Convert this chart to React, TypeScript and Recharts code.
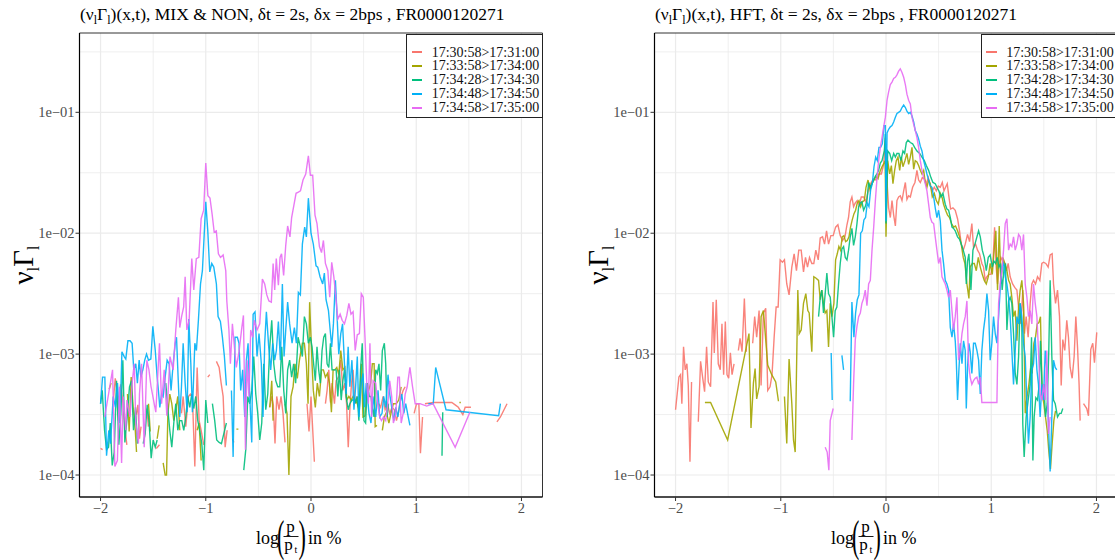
import React from "react";
import { LineChart, Line, XAxis, YAxis, CartesianGrid, ReferenceArea } from "recharts";

type Pt = [number, number] | null; // [log return %, log10 density], null = gap

const SERIES_NAMES = [
  "17:30:58>17:31:00",
  "17:33:58>17:34:00",
  "17:34:28>17:34:30",
  "17:34:48>17:34:50",
  "17:34:58>17:35:00",
];
const SERIES_COLORS = ["#F8766D", "#A3A500", "#00BF7D", "#00B0F6", "#E76BF3"];

const xTicks = [-2, -1, 0, 1, 2];
const xTickLabels = ["\u22122", "\u22121", "0", "1", "2"];
const xMinor = [-1.5, -0.5, 0.5, 1.5];
const yTicks = [1e-4, 1e-3, 1e-2, 1e-1];
const yTickLabels = ["1e\u221204", "1e\u221203", "1e\u221202", "1e\u221201"];
const yMinor = [3.162e-4, 3.162e-3, 3.162e-2, 3.162e-1];
const xDomain = [-2.2, 2.2];
const yDomain = [6.58e-5, 0.453];

// ---- MIX & NON panel ----
const mixRed: Pt[] = [
  [-2.0,-3.78],[-1.98,-3.79],null,
  [-1.88,-3.40],[-1.86,-3.20],[-1.845,-3.29],[-1.83,-3.55],[-1.81,-3.25],[-1.79,-3.38],[-1.77,-3.60],[-1.75,-3.75],null,
  [-1.66,-3.50],[-1.645,-3.42],[-1.63,-3.70],[-1.615,-3.60],null,
  [-1.56,-3.45],[-1.545,-3.60],null,
  [-1.47,-3.78],[-1.44,-3.75],null,
  [-1.231,-3.49],[-1.215,-3.35],[-1.19,-3.60],[-1.165,-3.35],[-1.146,-3.33],[-1.127,-3.35],[-1.104,-3.93],[-1.082,-3.11],[-1.063,-3.55],[-1.044,-3.63],[-1.019,-3.75],null,
  [-0.981,-3.19],[-0.962,-3.17],null,
  [-0.899,-3.06],[-0.873,-3.11],[-0.854,-3.24],[-0.835,-3.35],[-0.816,-3.77],[-0.797,-3.63],null,
  [-0.745,-3.70],[-0.734,-3.73],null,
  [-0.392,-3.44],[-0.373,-3.35],[-0.358,-3.42],[-0.342,-3.74],[-0.326,-3.35],[-0.304,-3.46],[-0.285,-3.35],[-0.266,-3.49],[-0.247,-3.73],null,
  [-0.038,-3.41],[-0.019,-3.64],[0.0,-3.35],[0.032,-3.89],null,
  [0.137,-3.41],[0.153,-3.30],[0.169,-3.13],[0.185,-3.40],[0.2,-3.24],[0.223,-3.41],[0.239,-3.22],[0.261,-3.19],[0.283,-3.05],[0.303,-3.30],[0.322,-3.24],[0.338,-3.41],[0.354,-3.77],[0.369,-3.46],[0.385,-3.24],[0.4,-3.13],[0.417,-3.41],[0.436,-3.35],[0.455,-3.46],null,
  [0.643,-3.41],[0.662,-3.44],[0.685,-3.35],[0.704,-3.46],[0.726,-3.41],[0.748,-3.49],[0.77,-3.44],[0.793,-3.46],[0.812,-3.55],[0.83,-3.49],[0.857,-3.35],[0.876,-3.30],[0.895,-3.27],null,
  [0.98,-3.49],[1.003,-3.41],[1.025,-3.41],[1.04,-3.82],[1.06,-3.52],null,
  [1.083,-3.41],[1.162,-3.40],[1.29,-3.40],[1.338,-3.40],[1.37,-3.42],[1.4,-3.44],[1.443,-3.50],[1.465,-3.44],[1.52,-3.44],null,
  [1.767,-3.56],[1.8,-3.52],[1.863,-3.41],
];

const mixOlive: Pt[] = [
  [-1.918,-3.29],[-1.9,-3.24],null,
  [-1.744,-3.33],[-1.728,-3.64],[-1.709,-3.19],[-1.69,-3.44],[-1.67,-3.63],[-1.658,-3.81],null,
  [-1.544,-3.41],[-1.528,-3.64],null,
  [-1.462,-3.70],[-1.443,-3.59],null,
  [-1.405,-3.90],[-1.386,-4.0],[-1.373,-4.0],[-1.36,-3.49],[-1.342,-3.33],[-1.323,-3.41],[-1.304,-3.55],[-1.285,-3.46],[-1.266,-3.35],[-1.247,-3.63],null,
  [-1.082,-3.63],[-1.063,-3.57],[-1.044,-3.88],null,
  [-0.709,-3.62],[-0.69,-3.62],null,
  [-0.392,-3.44],[-0.373,-3.22],[-0.36,-3.55],null,
  [-0.247,-3.41],[-0.228,-3.49],[-0.21,-4.0],[-0.19,-3.35],[-0.17,-3.27],[-0.152,-3.08],[-0.13,-3.20],[-0.11,-3.05],[-0.082,-2.91],[-0.063,-2.91],[-0.044,-3.08],[-0.028,-3.41],[-0.013,-2.57],[0.01,-3.08],[0.022,-3.30],[0.041,-3.44],[0.06,-3.24],[0.08,-3.35],[0.1,-3.13],[0.118,-3.13],[0.137,-3.19],[0.156,-3.16],[0.175,-3.24],[0.194,-3.48],[0.21,-3.13],[0.226,-3.13],[0.245,-3.11],[0.264,-3.17],[0.283,-2.97],[0.303,-3.13],[0.322,-3.11],[0.34,-3.38],[0.36,-3.35],[0.382,-3.38],[0.4,-3.35],[0.42,-3.38],[0.44,-3.41],[0.459,-3.46],[0.478,-3.08],[0.494,-3.52],[0.513,-3.51],[0.53,-3.30],[0.548,-3.30],[0.567,-3.24],[0.583,-3.08],[0.6,-3.08],[0.61,-3.60],[0.627,-3.59],null,
  [0.678,-3.63],[0.697,-3.52],[0.717,-3.48],[0.74,-3.57],[0.76,-3.49],[0.783,-3.41],[0.81,-3.41],[0.834,-3.38],[0.857,-3.27],null,
  [1.41,-3.40],[1.424,-3.40],
];

const mixGreen: Pt[] = [
  [-2.0,-3.41],[-1.984,-3.30],[-1.962,-3.63],[-1.943,-3.79],[-1.924,-3.77],[-1.908,-3.57],[-1.889,-3.92],[-1.87,-3.81],[-1.848,-3.22],[-1.826,-3.75],[-1.807,-3.49],[-1.788,-3.05],[-1.769,-3.73],[-1.747,-3.52],[-1.725,-3.27],[-1.706,-3.22],[-1.687,-3.63],[-1.668,-3.44],[-1.649,-3.74],null,
  [-1.595,-3.74],[-1.576,-3.66],[-1.557,-3.42],[-1.538,-3.57],[-1.519,-3.86],[-1.5,-3.71],[-1.48,-3.77],[-1.462,-3.71],null,
  [-1.38,-3.24],[-1.36,-3.46],[-1.342,-3.63],[-1.323,-3.77],[-1.304,-3.57],[-1.285,-3.41],[-1.266,-3.63],[-1.247,-3.55],[-1.228,-3.55],[-1.209,-3.63],[-1.19,-3.52],[-1.171,-3.35],[-1.152,-3.44],[-1.133,-3.33],[-1.114,-3.45],[-1.095,-3.35],[-1.076,-3.55],[-1.057,-3.63],[-1.038,-3.74],[-1.019,-3.96],[-1.0,-3.38],[-0.981,-3.57],null,
  [-0.937,-3.41],[-0.915,-3.55],[-0.896,-3.71],[-0.873,-3.73],[-0.851,-3.74],[-0.829,-3.66],[-0.804,-3.57],null,
  [-0.639,-3.96],[-0.62,-3.79],[-0.601,-3.35],[-0.582,-3.41],[-0.563,-3.30],[-0.544,-3.02],[-0.525,-3.33],[-0.506,-3.49],[-0.487,-3.71],[-0.468,-3.57],[-0.449,-3.08],[-0.43,-3.46],[-0.411,-3.33],[-0.392,-2.94],[-0.373,-2.72],[-0.354,-3.08],[-0.335,-3.22],[-0.316,-3.27],[-0.297,-3.27],[-0.278,-2.94],[-0.259,-3.30],[-0.24,-3.49],[-0.222,-3.13],[-0.203,-3.05],[-0.184,-3.19],[-0.165,-3.08],[-0.146,-3.24],[-0.123,-2.86],[-0.101,-2.94],[-0.082,-3.02],[-0.063,-2.69],[-0.044,-2.75],[-0.025,-2.91],[-0.006,-2.86],[0.01,-2.94],[0.025,-3.08],[0.041,-3.22],[0.057,-2.94],[0.073,-3.13],[0.089,-3.24],[0.105,-2.97],[0.121,-2.86],[0.137,-2.83],[0.153,-3.08],[0.169,-3.11],[0.185,-2.91],[0.2,-3.13],[0.22,-3.13],[0.239,-3.13],[0.255,-3.35],[0.27,-3.13],[0.287,-3.38],[0.303,-3.22],[0.318,-3.13],[0.334,-3.35],[0.354,-3.46],[0.369,-3.41],[0.389,-3.38],[0.408,-3.38],[0.424,-3.40],[0.44,-3.35],[0.455,-3.55],[0.471,-3.13],[0.487,-2.91],[0.503,-3.55],[0.519,-3.57],[0.535,-3.24],[0.554,-3.35],[0.57,-3.35],[0.586,-3.46],[0.599,-3.52],[0.615,-3.13],[0.63,-3.16],[0.646,-3.08],[0.662,-3.30],[0.678,-2.97],[0.697,-2.91],[0.71,-3.08],[0.723,-3.52],[0.736,-3.41],null,
  [1.245,-3.84],[1.252,-3.48],
];

const mixBlue: Pt[] = [
  [-2.0,-3.41],[-1.981,-3.19],[-1.959,-3.19],[-1.943,-3.84],[-1.921,-3.63],[-1.905,-3.74],[-1.88,-3.35],[-1.858,-3.44],[-1.839,-3.24],[-1.816,-3.57],[-1.797,-2.98],[-1.775,-3.02],[-1.76,-3.04],[-1.74,-2.89],[-1.72,-2.89],[-1.7,-2.91],[-1.684,-3.13],[-1.665,-3.08],[-1.65,-3.24],[-1.633,-3.05],[-1.617,-3.19],[-1.598,-3.13],[-1.58,-3.05],[-1.563,-3.0],[-1.544,-3.05],[-1.522,-3.04],[-1.503,-2.77],[-1.48,-2.97],[-1.462,-3.19],[-1.45,-3.30],[-1.437,-3.44],[-1.42,-3.33],[-1.405,-3.35],[-1.386,-3.19],[-1.367,-3.05],[-1.348,-3.08],[-1.33,-3.30],[-1.31,-3.08],[-1.29,-2.91],[-1.278,-2.86],[-1.263,-3.19],[-1.247,-3.52],[-1.231,-3.27],[-1.215,-2.91],[-1.196,-3.24],[-1.177,-3.48],[-1.161,-2.71],[-1.142,-3.08],[-1.127,-3.48],[-1.104,-2.91],[-1.089,-2.97],[-1.07,-2.72],[-1.05,-2.42],[-1.032,-2.31],[-1.016,-2.03],[-1.0,-1.74],[-0.981,-1.98],[-0.962,-2.32],[-0.943,-2.25],[-0.924,-2.28],[-0.899,-2.42],[-0.883,-2.69],[-0.861,-2.73],[-0.842,-2.86],[-0.823,-3.02],[-0.804,-3.26],null,
  [-0.756,-3.30],[-0.74,-3.85],[-0.722,-2.86],[-0.7,-2.86],[-0.684,-2.91],[-0.668,-3.30],[-0.649,-3.13],[-0.63,-3.52],[-0.614,-3.05],[-0.598,-2.91],[-0.582,-3.35],[-0.563,-3.73],[-0.55,-2.67],[-0.532,-2.65],[-0.513,-3.02],[-0.494,-2.83],[-0.472,-3.08],[-0.456,-3.52],[-0.44,-2.91],[-0.424,-2.65],[-0.402,-2.94],[-0.383,-3.13],[-0.364,-2.91],[-0.345,-3.05],[-0.329,-2.97],[-0.31,-2.73],[-0.291,-3.05],[-0.272,-2.42],[-0.256,-3.02],[-0.24,-2.80],[-0.222,-2.57],[-0.203,-2.75],[-0.18,-2.91],[-0.158,-2.78],[-0.139,-2.91],[-0.12,-2.49],[-0.101,-2.51],[-0.082,-2.09],[-0.06,-1.95],[-0.044,-2.03],[-0.025,-1.71],[0.0,-2.0],[0.022,-2.09],[0.048,-2.27],[0.064,-2.28],[0.086,-2.36],[0.111,-2.42],[0.127,-2.33],[0.143,-2.55],[0.166,-2.64],[0.18,-2.78],[0.197,-2.94],[0.213,-2.75],[0.232,-2.39],[0.248,-2.69],[0.264,-3.0],[0.283,-2.83],[0.3,-2.75],[0.318,-3.08],[0.334,-3.33],[0.353,-2.94],[0.369,-3.27],[0.389,-3.05],[0.408,-3.46],[0.424,-3.27],[0.44,-3.02],[0.455,-3.52],[0.478,-3.24],[0.494,-3.16],[0.51,-3.44],[0.525,-3.24],[0.551,-3.49],[0.57,-3.57],[0.589,-3.35],[0.615,-3.52],[0.637,-3.30],[0.653,-3.52],[0.675,-3.49],[0.691,-3.35],[0.71,-3.44],[0.732,-3.17],[0.748,-3.33],[0.767,-3.44],[0.787,-3.55],[0.806,-3.44],[0.825,-3.52],[0.844,-3.41],[0.863,-3.33],[0.882,-3.49],[0.9,-3.41],[0.924,-3.52],[0.94,-3.59],null,
  [1.115,-3.41],[1.162,-3.41],[1.185,-3.11],[1.283,-3.46],[1.783,-3.51],[1.8,-3.41],
];

const mixMagenta: Pt[] = [
  [-1.96,-3.52],[-1.886,-3.13],[-1.864,-3.93],[-1.84,-3.88],[-1.82,-3.27],[-1.8,-3.90],[-1.785,-3.35],[-1.76,-3.63],[-1.75,-3.38],[-1.72,-3.52],[-1.7,-3.24],[-1.68,-3.08],[-1.665,-3.57],[-1.64,-3.74],[-1.63,-3.33],[-1.61,-3.08],[-1.585,-3.77],[-1.56,-3.05],[-1.54,-3.13],[-1.52,-3.27],[-1.49,-3.41],[-1.475,-3.48],[-1.44,-2.91],[-1.42,-3.41],[-1.395,-3.13],[-1.37,-3.51],[-1.34,-3.02],[-1.31,-3.13],[-1.285,-2.80],[-1.26,-2.53],[-1.247,-2.78],[-1.23,-2.69],[-1.21,-2.61],[-1.196,-2.36],[-1.18,-2.80],[-1.158,-2.72],[-1.133,-2.21],[-1.114,-2.47],[-1.09,-2.21],[-1.066,-2.20],[-1.044,-1.88],[-1.02,-1.81],[-1.0,-1.42],[-0.98,-1.69],[-0.96,-1.71],[-0.94,-1.84],[-0.92,-1.99],[-0.9,-1.98],[-0.88,-2.17],[-0.86,-2.20],[-0.835,-2.18],[-0.81,-2.31],[-0.8,-2.56],[-0.78,-2.80],[-0.766,-3.08],[-0.747,-2.75],[-0.728,-2.94],[-0.71,-3.11],[-0.684,-2.98],[-0.66,-2.80],[-0.642,-2.68],[-0.623,-3.79],[-0.608,-3.05],[-0.59,-3.35],[-0.573,-2.80],[-0.554,-2.86],[-0.538,-2.72],[-0.513,-2.80],[-0.487,-2.75],[-0.462,-2.38],[-0.44,-2.42],[-0.42,-2.51],[-0.4,-2.56],[-0.377,-2.57],[-0.36,-2.25],[-0.345,-2.47],[-0.33,-2.21],[-0.31,-2.43],[-0.294,-2.20],[-0.28,-2.17],[-0.26,-2.35],[-0.24,-2.10],[-0.222,-1.94],[-0.2,-2.03],[-0.184,-1.87],[-0.165,-1.78],[-0.142,-1.67],[-0.12,-1.66],[-0.1,-1.65],[-0.076,-1.56],[-0.05,-1.51],[-0.025,-1.36],[-0.006,-1.52],[0.016,-1.52],[0.038,-1.85],[0.057,-1.92],[0.08,-2.11],[0.1,-2.16],[0.118,-2.06],[0.137,-2.25],[0.16,-2.31],[0.178,-2.53],[0.197,-2.24],[0.217,-2.36],[0.236,-2.53],[0.255,-2.71],[0.277,-2.67],[0.296,-2.72],[0.318,-2.75],[0.34,-2.68],[0.36,-2.58],[0.38,-2.67],[0.4,-2.65],[0.42,-2.97],[0.44,-2.84],[0.46,-2.83],[0.478,-2.50],[0.497,-2.53],[0.513,-2.86],[0.53,-3.24],[0.545,-3.41],[0.56,-2.91],[0.576,-3.52],[0.59,-3.22],[0.615,-3.24],[0.634,-3.41],[0.653,-3.52],[0.67,-3.55],[0.69,-3.52],[0.71,-3.55],[0.73,-3.41],[0.748,-3.22],[0.767,-3.35],[0.783,-3.57],[0.806,-3.49],[0.825,-3.19],[0.84,-3.19],[0.857,-3.57],[0.876,-3.49],[0.895,-3.33],[0.914,-3.27],[0.94,-3.11],[0.965,-3.27],[0.99,-3.41],[1.035,-3.41],[1.1,-3.43],[1.16,-3.41],[1.37,-3.77],[1.51,-3.48],
];

// ---- HFT panel ----
const hftRed: Pt[] = [
  [-2.0,-3.46],[-1.981,-3.30],[-1.968,-3.19],[-1.952,-3.17],[-1.94,-3.41],[-1.924,-2.94],[-1.908,-3.13],[-1.892,-3.08],[-1.879,-3.26],[-1.863,-3.89],[-1.848,-3.23],null,
  [-1.784,-3.56],[-1.762,-3.06],[-1.743,-3.19],[-1.724,-3.31],[-1.705,-2.94],[-1.689,-3.23],[-1.667,-3.27],[-1.644,-2.57],[-1.632,-2.99],[-1.613,-2.55],[-1.594,-3.08],[-1.575,-3.13],[-1.559,-2.75],[-1.543,-3.17],[-1.527,-2.73],[-1.511,-3.17],[-1.495,-3.20],[-1.479,-2.99],[-1.463,-3.17],[-1.444,-3.08],null,
  [-1.403,-2.97],[-1.387,-2.87],[-1.368,-2.98],[-1.346,-2.54],[-1.327,-2.98],null,
  [-1.267,-2.91],[-1.248,-2.69],[-1.229,-2.86],[-1.206,-2.64],[-1.187,-3.26],[-1.165,-2.66],[-1.143,-2.62],[-1.124,-3.30],[-1.102,-3.27],[-1.083,-3.17],[-1.063,-2.86],[-1.044,-2.61],[-1.025,-2.61],[-1.006,-2.22],[-0.984,-2.24],[-0.965,-2.22],[-0.943,-2.42],[-0.921,-2.51],[-0.895,-2.28],[-0.873,-2.17],[-0.851,-2.31],[-0.829,-2.14],[-0.806,-2.14],[-0.784,-2.32],[-0.765,-2.20],[-0.746,-2.28],[-0.727,-2.20],[-0.705,-2.25],[-0.686,-2.25],[-0.667,-2.14],[-0.644,-2.22],[-0.625,-2.04],[-0.603,-2.03],[-0.584,-2.09],[-0.565,-1.98],[-0.546,-2.09],[-0.524,-2.02],[-0.502,-2.02],[-0.479,-1.95],[-0.457,-1.93],[-0.435,-2.02],[-0.413,-2.06],[-0.39,-2.03],[-0.371,-1.93],[-0.356,-1.87],[-0.34,-1.74],[-0.324,-1.70],[-0.308,-1.78],[-0.292,-1.75],[-0.273,-1.73],[-0.254,-1.77],[-0.235,-1.70],[-0.213,-1.70],[-0.19,-1.74],[-0.165,-1.63],[-0.14,-1.58],[-0.117,-1.55],[-0.095,-1.56],[-0.07,-1.51],[-0.044,-1.51],[-0.022,-1.43],[-0.006,-1.21],[0.01,-1.58],[0.025,-1.79],[0.041,-1.87],[0.057,-1.73],[0.073,-1.85],[0.089,-1.94],[0.104,-1.73],[0.12,-1.70],[0.136,-1.69],[0.152,-1.73],[0.168,-1.65],[0.184,-1.58],[0.199,-1.72],[0.215,-1.69],[0.231,-1.70],[0.253,-1.62],[0.275,-1.58],[0.294,-1.48],[0.31,-1.56],[0.326,-1.58],[0.345,-1.54],[0.364,-1.55],[0.383,-1.59],[0.402,-1.54],[0.421,-1.61],[0.44,-1.65],[0.459,-1.62],[0.478,-1.65],[0.497,-1.61],[0.516,-1.62],[0.535,-1.58],[0.551,-1.65],[0.566,-1.62],[0.582,-1.59],[0.598,-1.70],[0.614,-1.80],[0.636,-1.79],[0.658,-1.81],[0.68,-1.88],[0.699,-1.98],[0.715,-2.09],[0.734,-2.14],[0.753,-2.09],[0.775,-2.01],[0.794,-2.07],[0.816,-1.92],[0.832,-2.12],[0.851,-2.09],[0.87,-2.14],[0.889,-2.17],[0.911,-2.25],[0.927,-2.28],[0.943,-2.39],[0.959,-2.36],[0.978,-2.34],[0.997,-2.34],[1.016,-2.25],[1.032,-1.95],[1.047,-2.28],[1.06,-2.42],[1.076,-2.25],[1.092,-2.20],[1.108,-2.23],[1.127,-2.25],[1.146,-2.31],[1.161,-2.25],[1.18,-2.36],[1.203,-2.42],[1.225,-2.45],[1.244,-2.47],[1.263,-2.64],[1.282,-2.75],[1.3,-2.47],[1.316,-2.83],[1.332,-2.69],[1.351,-2.86],[1.37,-2.58],[1.386,-2.42],[1.402,-2.39],[1.421,-2.42],[1.44,-2.36],[1.462,-2.39],[1.481,-2.25],[1.497,-2.24],[1.519,-2.25],[1.541,-2.28],[1.56,-2.18],[1.579,-2.17],[1.592,-2.42],[1.611,-2.58],[1.63,-2.47],[1.649,-2.69],[1.665,-3.26],[1.68,-2.88],[1.699,-2.97],[1.718,-2.72],[1.734,-2.86],[1.75,-3.11],[1.769,-3.20],[1.788,-3.02],[1.804,-2.69],[1.82,-2.94],[1.835,-3.25],[1.845,-3.55],null,
  [1.877,-3.41],[1.908,-3.45],[1.924,-3.51],[1.946,-2.96],[1.965,-2.91],[1.981,-3.07],[2.003,-2.82],
];

const hftOlive: Pt[] = [
  [-1.721,-3.40],[-1.667,-3.40],[-1.505,-3.71],[-1.302,-2.83],[-1.283,-3.61],[-1.26,-3.24],[-1.244,-3.12],[-1.229,-3.37],[-1.206,-3.27],[-1.187,-2.69],[-1.165,-2.64],[-1.124,-3.09],[-1.086,-3.17],[-1.048,-3.23],[-1.022,-3.39],null,
  [-0.965,-3.35],[-0.943,-3.74],[-0.921,-3.04],[-0.895,-3.41],[-0.879,-3.71],[-0.863,-3.81],[-0.838,-2.47],[-0.825,-2.83],[-0.806,-2.80],[-0.784,-2.58],[-0.762,-2.50],[-0.743,-2.64],[-0.73,-2.66],[-0.705,-2.98],[-0.686,-2.36],[-0.667,-2.37],[-0.641,-2.39],[-0.625,-2.55],[-0.61,-2.47],[-0.594,-2.58],[-0.578,-2.66],[-0.562,-2.64],[-0.546,-2.94],[-0.53,-2.58],[-0.514,-2.69],[-0.495,-2.58],[-0.479,-2.22],[-0.463,-2.17],[-0.448,-2.11],[-0.432,-2.14],[-0.416,-2.03],[-0.4,-2.02],[-0.384,-2.07],[-0.368,-2.06],[-0.352,-2.03],[-0.337,-1.95],[-0.321,-1.89],[-0.305,-1.84],[-0.289,-1.81],[-0.273,-1.75],[-0.257,-1.73],[-0.241,-1.78],[-0.225,-1.74],[-0.206,-1.73],[-0.19,-1.62],[-0.171,-1.56],[-0.152,-1.64],[-0.133,-1.59],[-0.114,-1.56],[-0.095,-1.53],[-0.076,-1.55],[-0.057,-1.49],[-0.038,-1.45],[-0.019,-1.42],[-0.008,-1.40],[0.0,-2.03],[0.016,-1.40],[0.035,-1.51],[0.051,-1.44],[0.066,-1.59],[0.082,-1.48],[0.098,-1.40],[0.114,-1.37],[0.13,-1.48],[0.146,-1.37],[0.161,-1.45],[0.18,-1.40],[0.199,-1.34],[0.215,-1.43],[0.231,-1.37],[0.247,-1.29],[0.263,-1.47],[0.278,-1.40],[0.294,-1.41],[0.31,-1.44],[0.326,-1.48],[0.342,-1.51],[0.358,-1.48],[0.373,-1.58],[0.389,-1.62],[0.405,-1.56],[0.421,-1.59],[0.44,-1.70],[0.459,-1.67],[0.478,-1.73],[0.497,-1.76],[0.516,-1.67],[0.532,-1.70],[0.547,-1.76],[0.566,-1.81],[0.585,-1.85],[0.604,-1.87],[0.623,-1.92],[0.642,-1.95],[0.661,-1.94],[0.68,-1.98],[0.699,-2.03],[0.715,-2.09],[0.734,-2.20],[0.75,-2.25],[0.769,-2.42],[0.788,-2.54],[0.8,-2.28],[0.82,-2.25],[0.839,-2.25],[0.858,-2.31],[0.877,-2.20],[0.896,-2.28],[0.915,-2.34],[0.934,-2.39],[0.953,-2.42],[0.972,-2.36],[0.99,-2.25],[1.01,-2.34],[1.028,-2.14],[1.044,-1.98],[1.06,-2.47],[1.076,-1.94],[1.092,-2.42],[1.11,-2.20],[1.13,-2.25],[1.149,-2.31],[1.165,-2.39],[1.18,-2.42],[1.196,-2.53],[1.212,-2.69],[1.228,-2.64],[1.244,-2.89],[1.26,-2.61],[1.275,-2.47],[1.291,-2.39],[1.307,-2.58],[1.323,-3.49],[1.339,-3.36],[1.358,-3.25],[1.373,-3.13],[1.389,-3.16],[1.405,-2.91],[1.421,-2.86],[1.437,-2.75],[1.453,-2.74],[1.468,-2.69],[1.484,-3.33],[1.5,-3.41],[1.516,-3.52],[1.532,-3.63],[1.547,-3.80],[1.563,-3.95],[1.579,-3.74],[1.595,-3.55],[1.611,-3.47],
];

const hftGreen: Pt[] = [
  [-0.641,-2.69],[-0.625,-2.53],[-0.61,-2.47],[-0.594,-2.66],[-0.578,-2.50],[-0.562,-2.33],[-0.546,-2.50],[-0.53,-2.53],[-0.514,-2.69],[-0.498,-2.86],[-0.483,-2.64],[-0.467,-2.61],[-0.451,-2.42],[-0.435,-2.25],[-0.419,-2.13],[-0.403,-2.11],[-0.387,-2.20],[-0.371,-2.22],[-0.356,-2.14],[-0.34,-2.03],[-0.324,-1.96],[-0.308,-2.10],[-0.292,-2.03],[-0.276,-1.92],[-0.26,-1.78],[-0.244,-1.75],[-0.229,-1.74],[-0.213,-1.81],[-0.197,-1.78],[-0.181,-1.73],[-0.165,-1.58],[-0.149,-1.62],[-0.133,-1.59],[-0.117,-1.56],[-0.102,-1.53],[-0.086,-1.51],[-0.07,-1.48],[-0.054,-1.42],[-0.038,-1.40],[-0.022,-1.34],[-0.016,-1.32],[-0.006,-1.18],[0.0,-1.92],[0.016,-1.32],[0.035,-1.34],[0.054,-1.40],[0.073,-1.34],[0.089,-1.37],[0.104,-1.34],[0.123,-1.34],[0.142,-1.40],[0.161,-1.32],[0.177,-1.34],[0.193,-1.25],[0.209,-1.23],[0.231,-1.25],[0.253,-1.26],[0.272,-1.29],[0.294,-1.32],[0.32,-1.34],[0.342,-1.37],[0.364,-1.40],[0.383,-1.44],[0.405,-1.48],[0.427,-1.54],[0.446,-1.58],[0.468,-1.59],[0.484,-1.62],[0.503,-1.65],[0.522,-1.70],[0.541,-1.67],[0.563,-1.76],[0.579,-1.80],[0.595,-1.81],[0.611,-1.87],[0.627,-1.95],[0.642,-1.96],[0.658,-1.98],[0.68,-2.03],[0.699,-2.05],[0.715,-2.09],[0.734,-2.14],[0.753,-2.20],[0.763,-2.42],[0.775,-2.23],[0.788,-2.17],[0.807,-2.47],[0.826,-2.14],[0.845,-2.09],[0.864,-2.03],[0.88,-1.98],[0.896,-2.03],[0.915,-2.14],[0.934,-2.20],[0.953,-2.31],[0.972,-2.20],[0.99,-2.18],[1.01,-2.28],[1.025,-2.23],[1.041,-2.25],[1.057,-2.20],[1.073,-2.28],[1.089,-2.25],[1.104,-2.47],[1.123,-2.28],[1.136,-2.25],[1.149,-2.80],[1.165,-2.56],[1.18,-2.53],[1.196,-2.58],[1.212,-2.83],[1.228,-3.16],[1.244,-3.25],[1.26,-3.02],[1.275,-2.58],[1.291,-2.78],[1.3,-3.58],[1.313,-3.85],[1.332,-3.52],[1.351,-3.38],[1.37,-3.25],[1.383,-2.86],[1.396,-3.88],[1.408,-3.52],[1.424,-3.36],[1.44,-3.38],[1.456,-3.25],[1.468,-2.89],[1.484,-3.30],[1.5,-3.25],[1.516,-3.52],[1.532,-3.41],[1.547,-2.97],[1.56,-2.39],[1.576,-3.02],[1.592,-3.38],[1.608,-3.41],[1.63,-3.52],[1.649,-3.49],[1.665,-3.49],[1.68,-3.45],
];

const hftBlue: Pt[] = [
  [-0.521,-2.99],[-0.511,-3.38],null,
  [-0.419,-3.01],[-0.403,-3.13],null,
  [-0.34,-3.39],[-0.324,-2.57],[-0.305,-2.86],[-0.289,-2.66],[-0.273,-2.55],[-0.257,-2.51],[-0.241,-2.0],[-0.225,-1.98],[-0.21,-1.89],[-0.194,-1.87],[-0.178,-1.75],[-0.162,-1.78],[-0.146,-1.64],[-0.13,-1.59],[-0.114,-1.45],[-0.098,-1.37],[-0.083,-1.40],[-0.067,-1.29],[-0.051,-1.29],[-0.035,-1.26],[-0.019,-1.11],[-0.006,-1.11],[0.0,-1.90],[0.01,-1.17],[0.025,-1.14],[0.041,-1.12],[0.057,-1.11],[0.073,-1.08],[0.089,-1.04],[0.104,-1.01],[0.12,-1.0],[0.136,-0.99],[0.152,-0.96],[0.168,-0.94],[0.184,-0.96],[0.199,-0.99],[0.215,-1.01],[0.231,-1.0],[0.247,-1.03],[0.263,-1.08],[0.278,-1.15],[0.294,-1.18],[0.31,-1.22],[0.326,-1.28],[0.342,-1.32],[0.358,-1.40],[0.373,-1.45],[0.389,-1.51],[0.405,-1.56],[0.421,-1.61],[0.437,-1.62],[0.453,-1.70],[0.468,-1.79],[0.484,-1.87],[0.5,-1.81],[0.516,-1.90],[0.532,-2.14],[0.547,-2.25],[0.563,-2.39],[0.579,-2.42],[0.595,-2.47],[0.611,-2.78],[0.627,-2.86],[0.642,-2.75],[0.658,-2.89],[0.668,-3.05],[0.68,-3.38],[0.693,-3.13],[0.706,-2.91],[0.722,-3.08],[0.737,-2.89],[0.753,-2.97],[0.763,-3.45],[0.775,-3.11],[0.788,-2.91],[0.8,-2.98],[0.816,-3.16],[0.832,-2.91],[0.848,-2.91],[0.864,-2.97],[0.88,-3.05],[0.896,-3.33],[0.911,-2.97],[0.927,-2.80],[0.943,-2.69],[0.959,-2.50],[0.975,-2.64],[0.99,-3.05],[1.006,-2.91],[1.022,-2.69],[1.038,-2.83],[1.054,-2.91],[1.07,-2.69],[1.085,-2.47],[1.101,-2.28],[1.117,-2.25],[1.133,-2.36],[1.149,-2.42],[1.165,-2.53],[1.18,-2.69],[1.196,-2.97],[1.212,-3.25],[1.228,-2.97],[1.244,-2.69],[1.26,-2.75],[1.275,-2.58],[1.291,-2.69],[1.307,-2.91],[1.323,-3.02],[1.339,-3.41],[1.354,-3.74],[1.37,-3.52],[1.386,-3.13],[1.402,-3.08],[1.418,-2.86],[1.434,-3.13],[1.449,-3.25],[1.465,-3.52],[1.481,-3.25],[1.497,-3.38],[1.513,-2.97],[1.528,-3.13],[1.544,-3.58],[1.56,-3.97],[1.576,-3.52],[1.592,-3.05],[1.608,-3.11],[1.623,-3.13],
];

const hftMagenta: Pt[] = [
  [-0.578,-3.77],[-0.559,-3.81],[-0.543,-3.96],[-0.53,-3.55],[-0.502,-3.45],null,
  [-0.324,-3.71],[-0.308,-3.24],[-0.292,-2.88],[-0.276,-2.77],[-0.26,-2.69],[-0.244,-2.66],[-0.229,-2.58],[-0.213,-2.54],[-0.197,-2.47],[-0.181,-2.60],[-0.165,-2.42],[-0.149,-2.39],[-0.133,-2.14],[-0.117,-1.95],[-0.101,-1.73],[-0.085,-1.54],[-0.07,-1.40],[-0.054,-1.29],[-0.038,-1.21],[-0.022,-1.12],[-0.006,-1.04],[0.01,-0.90],[0.025,-0.83],[0.041,-0.77],[0.057,-0.75],[0.073,-0.72],[0.089,-0.71],[0.104,-0.69],[0.12,-0.66],[0.136,-0.64],[0.152,-0.67],[0.168,-0.71],[0.184,-0.77],[0.199,-0.85],[0.215,-0.90],[0.231,-0.93],[0.247,-1.04],[0.263,-1.10],[0.278,-1.15],[0.294,-1.21],[0.31,-1.29],[0.326,-1.40],[0.342,-1.48],[0.358,-1.54],[0.373,-1.59],[0.389,-1.65],[0.405,-1.76],[0.421,-1.87],[0.437,-1.91],[0.453,-1.92],[0.468,-2.03],[0.484,-2.14],[0.5,-2.25],[0.516,-2.20],[0.532,-2.36],[0.547,-2.39],[0.563,-2.42],[0.579,-2.47],[0.595,-2.53],[0.611,-2.47],[0.627,-2.64],[0.642,-2.80],[0.658,-2.69],[0.674,-2.53],[0.69,-3.05],[0.706,-2.97],[0.722,-2.83],[0.737,-2.75],[0.753,-2.69],[0.769,-2.56],[0.785,-3.08],[0.8,-3.19],[0.816,-3.25],[0.832,-3.22],[0.848,-3.20],[0.864,-3.19],[0.88,-3.25],[0.896,-3.19],[0.911,-3.40],[1.054,-3.40],[1.07,-2.58],[1.085,-2.42],[1.101,-2.31],[1.117,-2.14],[1.133,-1.92],[1.149,-1.88],[1.165,-2.14],[1.18,-2.09],[1.196,-2.11],[1.212,-2.03],[1.228,-2.14],[1.244,-2.09],[1.26,-2.01],[1.275,-2.03],[1.291,-2.14],[1.307,-2.01],[1.323,-2.42],[1.339,-2.53],[1.354,-2.69],[1.37,-2.64],[1.386,-2.75],[1.402,-2.42],[1.418,-2.58],[1.434,-2.69],[1.449,-2.97],[1.465,-3.33],[1.481,-3.38],[1.497,-3.25],[1.513,-3.38],[1.528,-2.97],[1.544,-3.66],[1.56,-3.52],
];

const MIX_SERIES = [mixRed, mixOlive, mixGreen, mixBlue, mixMagenta];
const HFT_SERIES = [hftRed, hftOlive, hftGreen, hftBlue, hftMagenta];

function toRows(pts: Pt[]) {
  const rows: { x: number; y: number | null }[] = [];
  let lastX = 0;
  for (const p of pts) {
    if (p) {
      lastX = p[0];
      rows.push({ x: p[0], y: Math.pow(10, p[1]) });
    } else {
      rows.push({ x: lastX, y: null });
    }
  }
  return rows;
}

const FONT = '"Liberation Serif", "DejaVu Serif", serif';
const PLOT_LEFT = 79.5;
const PLOT_TOP = 33;
const PLOT_BOTTOM = 497;

function Panel({ label, series, left }: { label: string; series: Pt[][]; left: number }) {
  return (
    <div style={{ position: "absolute", left, top: 0, width: 560, height: 560 }}>
      <LineChart
        width={560}
        height={560}
        margin={{ top: PLOT_TOP, right: 17.5, bottom: 0, left: 0 }}
      >
        <CartesianGrid
          stroke="#ebebeb"
          strokeWidth={0.8}
          horizontalValues={yMinor}
          verticalValues={xMinor}
        />
        <CartesianGrid
          stroke="#ebebeb"
          strokeWidth={1.2}
          horizontalValues={yTicks}
          verticalValues={xTicks}
        />
        <XAxis
          dataKey="x"
          type="number"
          domain={xDomain}
          ticks={xTicks}
          allowDataOverflow
          height={63}
          tickSize={4}
          tickMargin={2}
          tickFormatter={(v: number) => xTickLabels[xTicks.indexOf(v)]}
          tick={{ fontSize: 14.5, fill: "#4d4d4d", fontFamily: FONT }}
          tickLine={{ stroke: "#333333" }}
          axisLine={{ stroke: "#000000", strokeWidth: 1.2 }}
        />
        <YAxis
          type="number"
          scale="log"
          domain={yDomain}
          ticks={yTicks}
          allowDataOverflow
          width={PLOT_LEFT}
          tickSize={4}
          tickMargin={1}
          tickFormatter={(v: number) => yTickLabels[yTicks.indexOf(v)]}
          tick={{ fontSize: 14.5, fill: "#4d4d4d", fontFamily: FONT }}
          tickLine={{ stroke: "#333333" }}
          axisLine={{ stroke: "#000000", strokeWidth: 1.2 }}
        />
        {series.map((s, i) => (
          <Line
            key={SERIES_NAMES[i]}
            name={SERIES_NAMES[i]}
            data={toRows(s)}
            dataKey="y"
            type="linear"
            stroke={SERIES_COLORS[i]}
            strokeOpacity={0.9}
            strokeWidth={1.4}
            dot={false}
            activeDot={false}
            connectNulls={false}
            isAnimationActive={false}
          />
        ))}
        <ReferenceArea
          x1={xDomain[0]}
          x2={xDomain[1]}
          y1={yDomain[0]}
          y2={yDomain[1]}
          fill="none"
          stroke="#333333"
          strokeWidth={1}
        />
      </LineChart>

      <svg
        width={560}
        height={560}
        style={{ position: "absolute", left: 0, top: 0, pointerEvents: "none", fontFamily: FONT }}
      >
        <text x={80} y={20} fontSize={17.5} fill="#000">
          (ν<tspan dy={4} fontSize={12}>l</tspan>
          <tspan dy={-4}>Γ</tspan>
          <tspan dy={4} fontSize={12}>l</tspan>
          <tspan dy={-4}>{`)(x,t), ${label}, δt = 2s, δx = 2bps , FR0000120271`}</tspan>
        </text>

        <text transform={`translate(33,${(PLOT_TOP + PLOT_BOTTOM) / 2}) rotate(-90)`} textAnchor="middle" fontSize={29} fill="#000">
          ν<tspan dy={6} fontSize={16}>l</tspan>
          <tspan dy={-6}>Γ</tspan>
          <tspan dy={6} fontSize={16}>l</tspan>
        </text>

        <g fill="#000">
          <text x={256} y={544} fontSize={18}>log</text>
          <text transform="translate(277,551) scale(0.5,1)" fontSize={44}>(</text>
          <text x={290.5} y={532} fontSize={17} textAnchor="middle">p</text>
          <line x1={283.5} x2={298.5} y1={536.5} y2={536.5} stroke="#000" strokeWidth={0.9} />
          <text x={288.5} y={550} fontSize={17} textAnchor="middle">p</text>
          <text x={294.5} y={553} fontSize={10}>t</text>
          <text transform="translate(298.5,551) scale(0.5,1)" fontSize={44}>)</text>
          <text x={308} y={544} fontSize={18}>in %</text>
        </g>
      </svg>

      <div
        style={{
          position: "absolute",
          left: 406,
          top: 34,
          width: 137,
          height: 84,
          boxSizing: "border-box",
          border: "1px solid #222",
          background: "#fff",
          paddingTop: 10.5,
          fontFamily: FONT,
          fontSize: 14,
          color: "#111",
        }}
      >
        {SERIES_NAMES.map((name, i) => (
          <div key={name} style={{ display: "flex", alignItems: "center", height: 13.8 }}>
            <span
              style={{
                display: "inline-block",
                width: 10.5,
                height: 2,
                marginLeft: 4.7,
                background: SERIES_COLORS[i],
              }}
            />
            <span style={{ marginLeft: 9.5, lineHeight: "13.8px", whiteSpace: "nowrap" }}>{name}</span>
          </div>
        ))}
      </div>
    </div>
  );
}

export default function App() {
  return (
    <div
      style={{
        position: "absolute",
        left: 0,
        top: 0,
        width: 1115,
        height: 560,
        overflow: "hidden",
        background: "#fff",
      }}
    >
      <Panel label="MIX & NON" series={MIX_SERIES} left={0} />
      <Panel label="HFT" series={HFT_SERIES} left={574.5} />
    </div>
  );
}
